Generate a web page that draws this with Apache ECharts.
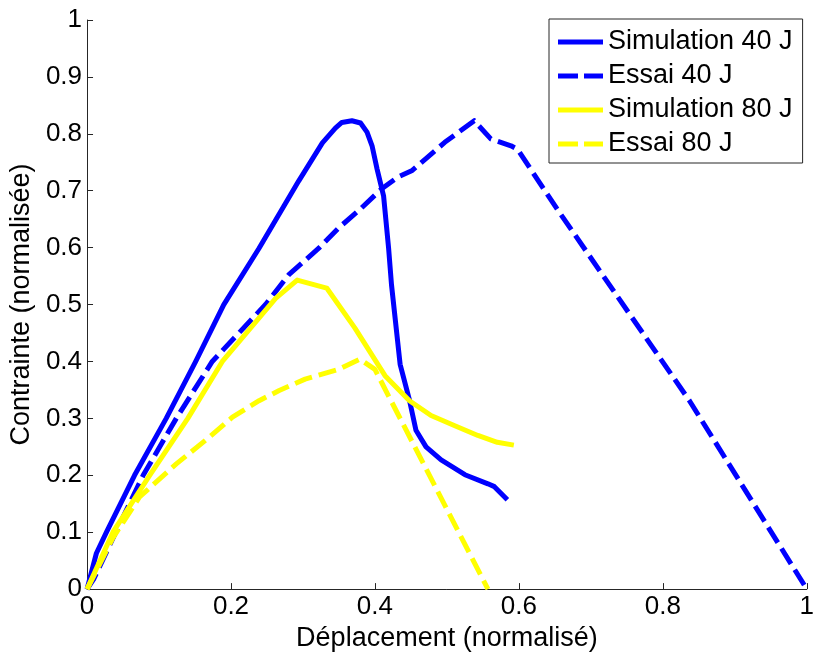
<!DOCTYPE html>
<html>
<head>
<meta charset="utf-8">
<script src="https://cdn.jsdelivr.net/npm/echarts@6/dist/echarts.min.js"></script>
<style>
html,body{margin:0;padding:0;background:#fff;}
#chart{width:817px;height:657px;}
</style>
</head>
<body>
<div id="chart"></div>
<script>
var seriesNames = ['Simulation 40 J', 'Essai 40 J', 'Simulation 80 J', 'Essai 80 J'];

var sim40X = [0, 0.013, 0.027, 0.066, 0.110, 0.151, 0.190, 0.239, 0.294, 0.327, 0.345, 0.354, 0.368, 0.380, 0.389, 0.396, 0.403, 0.412, 0.419, 0.423, 0.435, 0.448, 0.457, 0.471, 0.492, 0.525, 0.557, 0.566, 0.584];
var sim40Y = [0, 0.063, 0.100, 0.200, 0.300, 0.400, 0.500, 0.599, 0.717, 0.784, 0.810, 0.820, 0.823, 0.819, 0.803, 0.779, 0.738, 0.691, 0.599, 0.535, 0.395, 0.332, 0.279, 0.250, 0.227, 0.201, 0.185, 0.180, 0.157];

var essai40X = [0, 0.009, 0.040, 0.078, 0.124, 0.174, 0.248, 0.280, 0.322, 0.349, 0.380, 0.409, 0.432, 0.451, 0.497, 0.538, 0.561, 0.589, 0.598, 0.653, 0.837, 1.0];
var essai40Y = [0, 0.017, 0.100, 0.200, 0.300, 0.400, 0.500, 0.552, 0.599, 0.634, 0.668, 0.703, 0.724, 0.735, 0.785, 0.823, 0.791, 0.779, 0.773, 0.668, 0.331, 0.0];

var sim80X = [0, 0.036, 0.087, 0.140, 0.188, 0.262, 0.292, 0.333, 0.372, 0.414, 0.448, 0.478, 0.511, 0.543, 0.570, 0.593];
var sim80Y = [0, 0.100, 0.200, 0.300, 0.400, 0.511, 0.543, 0.529, 0.459, 0.375, 0.331, 0.305, 0.287, 0.270, 0.258, 0.253];

var essai80X = [0, 0.036, 0.073, 0.124, 0.170, 0.202, 0.239, 0.267, 0.303, 0.349, 0.379, 0.400, 0.557];
var essai80Y = [0, 0.090, 0.162, 0.220, 0.267, 0.302, 0.331, 0.349, 0.369, 0.386, 0.404, 0.386, 0.0];

function pairs(xs, ys) {
    var out = [];
    for (var i = 0; i < xs.length; i++) out.push([xs[i], ys[i]]);
    return out;
}

var font = 'Liberation Sans, Arial, sans-serif';
var axisColor = '#262626';
var solidIcon = 'path://M0,0H45V5H0Z';
var dashIcon = 'path://M0,0H20V5H0ZM26,0H45V5H26Z';

function makeLine(name, xs, ys, color, dashed) {
    return {
        name: name,
        type: 'line',
        data: pairs(xs, ys),
        symbol: 'none',
        smooth: false,
        lineStyle: { color: color, width: 5, type: dashed ? [18, 7] : 'solid', cap: 'butt', join: 'round' },
        itemStyle: { color: color }
    };
}

var option = {
    animation: false,
    backgroundColor: '#fff',
    grid: { left: 87, right: 6, top: 20, bottom: 64 },
    legend: {
        orient: 'vertical',
        left: 549,
        top: 19,
        padding: [8, 10, 4, 9],
        itemGap: 4,
        itemWidth: 45,
        itemHeight: 5,
        itemTextGap: 8,
        borderColor: '#262626',
        borderWidth: 1,
        backgroundColor: '#fff',
        textStyle: { fontFamily: font, fontSize: 27, color: '#000', lineHeight: 30 },
        data: [
            { name: seriesNames[0], icon: solidIcon },
            { name: seriesNames[1], icon: dashIcon },
            { name: seriesNames[2], icon: solidIcon },
            { name: seriesNames[3], icon: dashIcon }
        ]
    },
    xAxis: {
        type: 'value',
        min: 0, max: 1, interval: 0.2,
        name: 'Déplacement (normalisé)',
        nameLocation: 'middle',
        nameGap: 34,
        nameTextStyle: { fontFamily: font, fontSize: 27, color: '#000' },
        axisLine: { lineStyle: { color: axisColor, width: 1 } },
        axisTick: { inside: true, length: 6, lineStyle: { color: axisColor } },
        axisLabel: { fontFamily: font, fontSize: 26, color: '#000', margin: 5 },
        splitLine: { show: false }
    },
    yAxis: {
        type: 'value',
        min: 0, max: 1, interval: 0.1,
        name: 'Contrainte (normalisée)',
        nameLocation: 'middle',
        nameGap: 48,
        nameTextStyle: { fontFamily: font, fontSize: 27, color: '#000' },
        axisLine: { show: true, lineStyle: { color: axisColor, width: 1 } },
        axisTick: { show: true, inside: true, length: 6, lineStyle: { color: axisColor } },
        axisLabel: { fontFamily: font, fontSize: 26, color: '#000', margin: 5 },
        splitLine: { show: false }
    },
    series: [
        makeLine(seriesNames[0], sim40X, sim40Y, '#0000ff', false),
        makeLine(seriesNames[1], essai40X, essai40Y, '#0000ff', true),
        makeLine(seriesNames[2], sim80X, sim80Y, '#ffff00', false),
        makeLine(seriesNames[3], essai80X, essai80Y, '#ffff00', true)
    ]
};

var chart = echarts.init(document.getElementById('chart'));
chart.setOption(option);
</script>
</body>
</html>
